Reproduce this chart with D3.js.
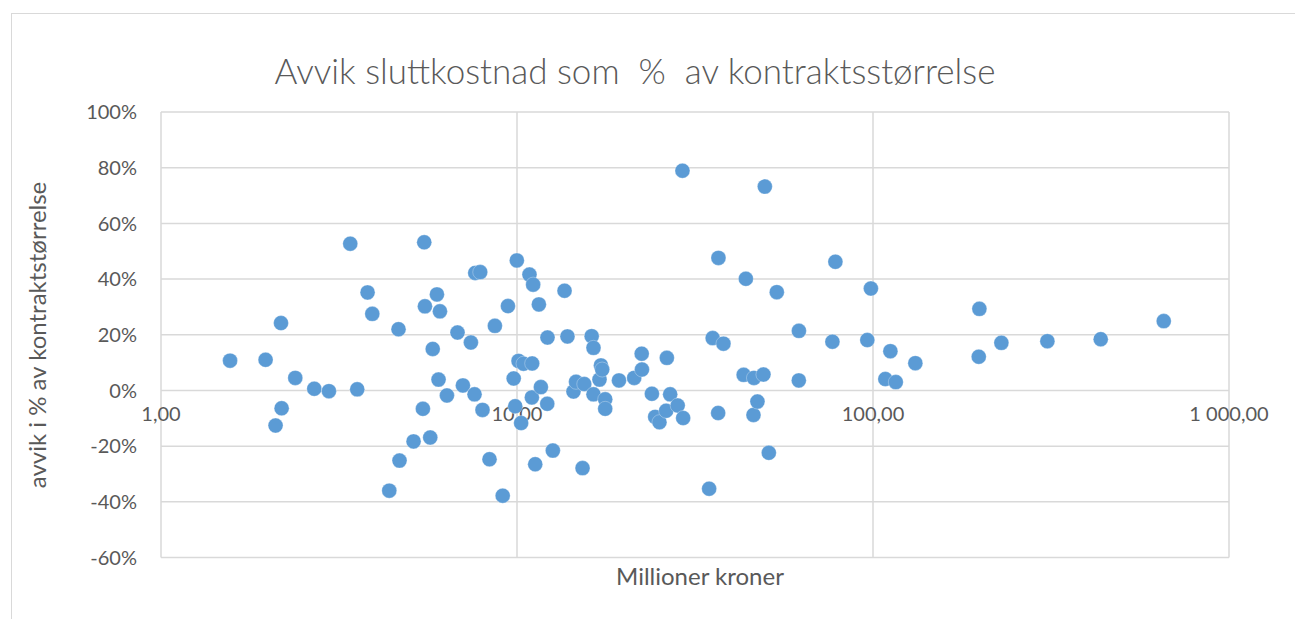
<!DOCTYPE html>
<html>
<head>
<meta charset="utf-8">
<script src="https://cdn.jsdelivr.net/npm/d3@7"></script>
<style>
  html, body { margin: 0; padding: 0; background: #fff; }
  svg { display: block; }
  text { font-family: Lato, "Open Sans", sans-serif; fill: #595959; }
</style>
</head>
<body>
<svg id="chart" width="1295" height="619"></svg>
<script>
// Contract size (million NOK) and deviation (% of contract size)
const contractSize = [
  1.563, 1.967, 2.098, 2.173, 2.182, 2.383, 2.695, 2.963, 3.401, 3.558,
  3.804, 3.922, 4.377, 4.647, 4.677, 5.122, 5.441, 5.488, 5.513, 5.705,
  5.798, 5.958, 6.020, 6.075, 6.356, 6.806, 7.048, 7.422, 7.598, 7.632,
  7.883, 8.000, 8.371, 8.668, 9.117, 9.430, 9.788, 9.885, 9.99, 10.10,
  10.27, 10.43, 10.84, 11.01, 11.03, 11.10, 11.25, 11.52, 11.67, 12.18,
  12.16, 12.61, 13.60, 13.86, 14.41, 14.65, 15.28, 15.45, 16.21, 16.40,
  16.40, 17.05, 17.21, 17.35, 17.69, 17.69, 19.34, 21.34, 22.40, 22.44,
  23.93, 24.44, 25.13, 26.24, 26.36, 26.93, 28.27, 29.16, 29.29, 34.65,
  35.45, 36.73, 36.80, 38.01, 43.32, 43.94, 46.16, 46.30, 47.36, 49.23,
  49.68, 50.98, 53.68, 61.93, 61.89, 76.91, 78.41, 96.38, 98.65, 108.3,
  111.9, 115.9, 131.5, 198.2, 199.0, 229.4, 308.9, 436.2, 655.7
];
const deviationPct = [
  10.7, 11.0, -12.6, 24.2, -6.4, 4.5, 0.6, -0.25, 52.7, 0.4,
  35.2, 27.5, -36.0, 22.0, -25.2, -18.3, -6.6, 53.2, 30.2, -16.9,
  14.9, 34.5, 3.9, 28.4, -1.8, 20.8, 1.8, 17.2, -1.4, 42.2,
  42.5, -7.0, -24.7, 23.2, -37.8, 30.3, 4.3, -5.7, 46.7, 10.6,
  -11.7, 9.6, 41.6, -2.5, 9.7, 38.0, -26.5, 30.9, 1.2, 19.0,
  -4.8, -21.6, 35.8, 19.4, -0.4, 3.1, -27.9, 2.3, 19.5, 15.3,
  -1.4, 3.9, 9.0, 7.5, -3.2, -6.6, 3.6, 4.5, 13.2, 7.5,
  -1.2, -9.5, -11.4, -7.3, 11.7, -1.4, -5.4, 78.9, -9.9, -35.3,
  18.8, -8.1, 47.6, 16.8, 5.6, 40.1, -8.8, 4.5, -4.0, 5.7,
  73.2, -22.4, 35.3, 21.4, 3.6, 17.5, 46.2, 18.1, 36.6, 4.1,
  14.1, 3.0, 9.8, 12.1, 29.3, 17.1, 17.7, 18.4, 24.9
];
const xTicks = [1, 10, 100, 1000];
const xTickLabels = ["1,00", "10,00", "100,00", "1 000,00"];
const yTicks = [-60, -40, -20, 0, 20, 40, 60, 80, 100];

const title = "Avvik sluttkostnad som  %  av kontraktsstørrelse";
const xTitle = "Millioner kroner";
const yTitle = "avvik i % av kontraktstørrelse";

const svg = d3.select("#chart");
const W = 1295, H = 619;
const plot = { left: 161, right: 1229, top: 112, bottom: 557.5 };

// chart frame
svg.append("rect")
  .attr("x", 11.5).attr("y", 13.5)
  .attr("width", W + 20).attr("height", H + 20)
  .attr("fill", "#fff").attr("stroke", "#d9d9d9").attr("stroke-width", 1);

const x = d3.scaleLog().domain([1, 1000]).range([plot.left, plot.right]);
const y = d3.scaleLinear().domain([-60, 100]).range([plot.bottom, plot.top]);

// horizontal gridlines
svg.append("g").selectAll("line").data(yTicks).join("line")
  .attr("x1", plot.left).attr("x2", plot.right)
  .attr("y1", d => y(d)).attr("y2", d => y(d))
  .attr("stroke", "#d9d9d9").attr("stroke-width", 1.5);

// vertical gridlines
svg.append("g").selectAll("line").data(xTicks).join("line")
  .attr("x1", d => x(d)).attr("x2", d => x(d))
  .attr("y1", plot.top).attr("y2", plot.bottom)
  .attr("stroke", "#d9d9d9").attr("stroke-width", 1.5);

// y tick labels
svg.append("g").selectAll("text").data(yTicks).join("text")
  .attr("x", 137).attr("y", d => y(d))
  .attr("dy", "0.36em")
  .attr("text-anchor", "end")
  .attr("font-size", 20)
  .text(d => d + "%");

// x tick labels (at the zero line)
svg.append("g").selectAll("text").data(xTicks).join("text")
  .attr("x", d => x(d)).attr("y", y(0) + 31)
  .attr("text-anchor", "middle")
  .attr("font-size", 20)
  .text((d, i) => xTickLabels[i]);

// points
const pts = contractSize.map((v, i) => ({ x: v, y: deviationPct[i] }));
svg.append("g").selectAll("circle").data(pts).join("circle")
  .attr("cx", d => x(d.x)).attr("cy", d => y(d.y))
  .attr("r", 7.5)
  .attr("fill", "#5b9bd5")
  .attr("stroke", "#ffffff").attr("stroke-width", 0.5).attr("stroke-opacity", 0.6);

// title
svg.append("text")
  .attr("x", 635).attr("y", 84)
  .attr("text-anchor", "middle")
  .attr("font-size", 35)
  .attr("font-weight", 300)
  .attr("xml:space", "preserve")
  .style("white-space", "pre")
  .text(title);

// x axis title
svg.append("text")
  .attr("x", 700).attr("y", 585)
  .attr("text-anchor", "middle")
  .attr("font-size", 24)
  .text(xTitle);

// y axis title
svg.append("text")
  .attr("transform", `translate(46, 335) rotate(-90)`)
  .attr("text-anchor", "middle")
  .attr("font-size", 24)
  .text(yTitle);
</script>
</body>
</html>
